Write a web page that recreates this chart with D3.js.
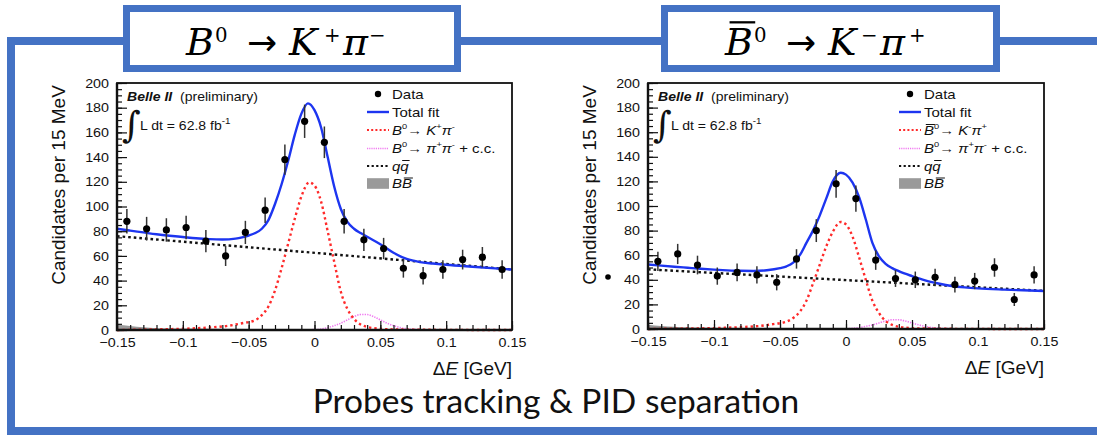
<!DOCTYPE html>
<html>
<head>
<meta charset="utf-8">
<script src="https://cdn.jsdelivr.net/npm/d3@7"></script>
<style>
  body { margin: 0; background: #fff; }
  svg { display: block; }
  text { white-space: pre; }
</style>
</head>
<body>
<svg id="slide" width="1097" height="435"></svg>
<script>
// ---------- data ----------
// ΔE bin centres (15 MeV bins)
const binCenters = [-0.1425, -0.1275, -0.1125, -0.0975, -0.0825, -0.0675, -0.0525, -0.0375, -0.0225, -0.0075,
                    0.0075, 0.0225, 0.0375, 0.0525, 0.0675, 0.0825, 0.0975, 0.1125, 0.1275, 0.1425];

// B0 -> K+ pi-
const countsKpi = [88, 82, 81, 83, 72, 60, 79, 97, 138, 169, 152, 88, 73, 66, 50, 44, 49, 57, 59, 49];
const errorsKpi = [9.9, 9.6, 9.5, 9.6, 9.0, 8.2, 9.4, 10.3, 12.2, 13.5, 12.8, 9.9, 9.0, 8.6, 7.6, 7.1, 7.5, 8.0, 8.2, 7.5];
const totalFitKpi = [[-0.15, 82], [-0.14, 80.5], [-0.13, 79], [-0.12, 77.5], [-0.11, 76.3], [-0.10, 75.3], [-0.09, 74.3],
  [-0.08, 73.6], [-0.07, 73.3], [-0.06, 74], [-0.055, 75], [-0.05, 76.5], [-0.045, 78.5], [-0.04, 82], [-0.035, 89],
  [-0.03, 102], [-0.025, 118], [-0.02, 137], [-0.015, 158], [-0.01, 175], [-0.005, 183.5], [0.0, 178], [0.005, 164],
  [0.01, 140], [0.015, 116], [0.02, 98], [0.025, 87.5], [0.03, 82], [0.035, 78.5], [0.04, 75.5], [0.05, 69.5],
  [0.06, 62.5], [0.07, 57.5], [0.08, 55], [0.09, 53.8], [0.10, 52.8], [0.12, 51.2], [0.14, 49.7], [0.15, 49]];
const signalKpi = [[-0.15, 0], [-0.12, 0.5], [-0.10, 1], [-0.08, 2], [-0.065, 3.5], [-0.055, 5.5], [-0.045, 8], [-0.04, 12],
  [-0.035, 19], [-0.03, 32], [-0.025, 50], [-0.02, 70], [-0.015, 90], [-0.01, 108], [-0.004, 119.5], [0.0, 117],
  [0.005, 104], [0.01, 80], [0.015, 55], [0.02, 31], [0.025, 17], [0.03, 9], [0.035, 4.5], [0.04, 2.5], [0.05, 1],
  [0.06, 0.5], [0.08, 0.2], [0.15, 0]];
const pipiKpi = [[-0.03, 0], [0.0, 0.3], [0.005, 0.8], [0.01, 1.9], [0.015, 3.5], [0.02, 5.5], [0.025, 8.2], [0.03, 10.9],
  [0.035, 12.5], [0.04, 12.5], [0.045, 10.8], [0.05, 8.2], [0.055, 5.6], [0.06, 3.5], [0.065, 2], [0.07, 1],
  [0.08, 0.3], [0.09, 0], [0.15, 0]];
const qqbarKpi = [[-0.15, 76], [0.15, 49]];
const bbbarKpi = [[-0.15, 4.5], [-0.14, 3.2], [-0.13, 2.2], [-0.12, 1.5], [-0.10, 1.2], [-0.05, 0.9], [0.0, 0.7],
  [0.05, 0.5], [0.10, 0.3], [0.15, 0.2]];

// anti-B0 -> K- pi+
const countsKbarpi = [55, 61, 52, 43, 46, 44, 38, 57, 80, 118, 106, 56, 41, 40, 42, 36, 39, 50, 24, 44];
const errorsKbarpi = [7.8, 8.2, 7.6, 7.0, 7.2, 7.0, 6.6, 7.9, 9.3, 11.3, 10.7, 7.9, 6.8, 6.7, 6.9, 6.4, 6.6, 7.5, 5.3, 7.0];
const totalFitKbarpi = [[-0.15, 52.5], [-0.14, 51.5], [-0.13, 50.6], [-0.12, 49.8], [-0.11, 49], [-0.10, 48.3],
  [-0.09, 47.7], [-0.08, 47.3], [-0.07, 47.2], [-0.06, 47.8], [-0.05, 49.5], [-0.045, 51], [-0.04, 54], [-0.035, 60],
  [-0.03, 70], [-0.025, 80], [-0.02, 92], [-0.015, 106], [-0.01, 120], [-0.004, 127], [0.0, 125.5], [0.005, 119],
  [0.01, 107], [0.015, 89], [0.02, 70], [0.025, 59], [0.03, 53], [0.035, 49.5], [0.04, 47], [0.05, 43], [0.06, 39.5],
  [0.07, 37], [0.08, 35], [0.09, 33.8], [0.10, 33], [0.12, 32], [0.15, 30.9]];
const signalKbarpi = [[-0.15, 0], [-0.12, 0.4], [-0.10, 0.7], [-0.08, 1.5], [-0.065, 2.5], [-0.055, 4], [-0.045, 6],
  [-0.04, 9], [-0.035, 14], [-0.03, 23], [-0.025, 37], [-0.02, 52], [-0.015, 67], [-0.01, 79], [-0.004, 87], [0.0, 85],
  [0.005, 75], [0.01, 58], [0.015, 40], [0.02, 23], [0.025, 13], [0.03, 6.5], [0.035, 3.3], [0.04, 1.8], [0.05, 0.7],
  [0.06, 0.4], [0.08, 0.15], [0.15, 0]];
const pipiKbarpi = [[-0.03, 0], [0.0, 0.2], [0.005, 0.5], [0.01, 1.1], [0.015, 2.1], [0.02, 3.3], [0.025, 4.9],
  [0.03, 6.5], [0.035, 7.5], [0.04, 7.5], [0.045, 6.5], [0.05, 4.9], [0.055, 3.4], [0.06, 2.1], [0.065, 1.2],
  [0.07, 0.6], [0.08, 0.2], [0.09, 0], [0.15, 0]];
const qqbarKbarpi = [[-0.15, 48.5], [0.15, 31]];
const bbbarKbarpi = [[-0.15, 3.5], [-0.14, 2.5], [-0.13, 1.8], [-0.12, 1.2], [-0.10, 1.0], [-0.05, 0.8], [0.0, 0.6],
  [0.05, 0.4], [0.10, 0.3], [0.15, 0.2]];

// axes
const xDomain = [-0.15, 0.15];
const yDomain = [0, 200];
const xTickValues = [-0.15, -0.1, -0.05, 0, 0.05, 0.1, 0.15];
const yTickValues = [0, 20, 40, 60, 80, 100, 120, 140, 160, 180, 200];

// text
const yAxisTitle = "Candidates per 15 MeV";
const footerText = "Probes tracking & PID separation";
const lumiText = "L dt = 62.8 fb";

// ---------- drawing ----------
const svg = d3.select("#slide");
const SANS = "'Liberation Sans', Arial, Helvetica, sans-serif";
const SERIF = "'DejaVu Serif', 'Liberation Serif', serif";
const SX = 1.17;           // horizontal stretch of the ROOT plot lettering
const BLUE = "#4472C4";

// text built from parts: {t, it, b, sup, over, x, font, size}
function richText(parent, x, y, parts, o) {
  const sx = o.sx || 1;
  const g = parent.append("g").attr("transform", `translate(${x},${y}) scale(${sx},1)`);
  const t = g.append("text")
    .attr("font-family", o.font).attr("font-size", o.size)
    .attr("fill", o.fill || "#000").attr("text-anchor", o.anchor || "start");
  const supSize = o.size * (o.supScale || 0.62);
  const raise = o.size * (o.supRaise || 0.42);
  let offset = 0, idx = 0;
  const overs = [];
  parts.forEach(p => {
    const s = t.append("tspan").text(p.t);
    const target = p.sup ? -raise : 0;
    if (target !== offset) { s.attr("dy", target - offset); offset = target; }
    if (p.x !== undefined) s.attr("x", (p.x - x) / sx);
    if (p.sup) s.attr("font-size", supSize);
    if (p.size) s.attr("font-size", p.size);
    if (p.it) s.attr("font-style", "italic");
    if (p.b) s.attr("font-weight", "bold");
    if (p.font) s.attr("font-family", p.font);
    if (p.over) overs.push({ start: idx, len: p.t.length, size: p.sup ? supSize : o.size, base: target });
    idx += p.t.length;
  });
  overs.forEach(ov => {
    const node = t.node();
    const a = node.getExtentOfChar(ov.start);
    const b = node.getExtentOfChar(ov.start + ov.len - 1);
    const yy = ov.base - ov.size * (o.overAt || 0.8);
    g.append("line")
      .attr("x1", a.x + ov.size * 0.12).attr("x2", b.x + b.width + ov.size * 0.06)
      .attr("y1", yy).attr("y2", yy)
      .attr("stroke", o.fill || "#000").attr("stroke-width", Math.max(1, ov.size * 0.06));
  });
  return g;
}

// slide frame
svg.append("path")
  .attr("d", "M1100,41 H11 V431 H1100")
  .attr("fill", "none").attr("stroke", BLUE).attr("stroke-width", 8);

function drawPanel(cfg) {
  const x = d3.scaleLinear().domain(xDomain).range([cfg.x0, cfg.x1]);
  const y = d3.scaleLinear().domain(yDomain).range([cfg.yBottom, cfg.yTop]);
  const g = svg.append("g");

  const line = d3.line().x(d => x(d[0])).y(d => y(d[1])).curve(d3.curveMonotoneX);
  const area = d3.area().x(d => x(d[0])).y0(y(0)).y1(d => y(d[1])).curve(d3.curveMonotoneX);

  // B Bbar background (filled)
  g.append("path").attr("d", area(cfg.bbbar)).attr("fill", "#9a9a9a");
  // peaking pi pi
  g.append("path").attr("d", line(cfg.pipi)).attr("fill", "none")
    .attr("stroke", "#f07af0").attr("stroke-width", 1.6).attr("stroke-dasharray", "1.3,1.2");
  // signal
  g.append("path").attr("d", line(cfg.signal)).attr("fill", "none")
    .attr("stroke", "#ff2a2a").attr("stroke-width", 2.4).attr("stroke-dasharray", "2.4,3");
  // continuum
  g.append("path").attr("d", line(cfg.qqbar)).attr("fill", "none")
    .attr("stroke", "#111").attr("stroke-width", 2.4).attr("stroke-dasharray", "2.6,3");
  // total fit
  g.append("path").attr("d", line(cfg.total)).attr("fill", "none")
    .attr("stroke", "#1d35f0").attr("stroke-width", 2.4);

  // data with error bars
  const pts = cfg.counts.map((c, i) => ({ x: binCenters[i], y: c, e: cfg.errors[i] }));
  g.selectAll(".err").data(pts).join("line")
    .attr("x1", d => x(d.x)).attr("x2", d => x(d.x))
    .attr("y1", d => y(d.y - d.e)).attr("y2", d => y(d.y + d.e))
    .attr("stroke", "#333").attr("stroke-width", 1.5);
  g.selectAll(".pt").data(pts).join("circle")
    .attr("cx", d => x(d.x)).attr("cy", d => y(d.y)).attr("r", 3.6).attr("fill", "#000");

  // axes (ticks point inwards)
  const xa = g.append("g").attr("transform", `translate(0,${cfg.yBottom})`)
    .call(d3.axisBottom(x).tickValues(xTickValues).tickSize(-9).tickPadding(8).tickFormat(d3.format("")));
  g.append("g").attr("transform", `translate(0,${cfg.yBottom})`)
    .call(d3.axisBottom(x).ticks(30).tickSize(-5).tickFormat(""));
  const ya = g.append("g").attr("transform", `translate(${cfg.x0},0)`)
    .call(d3.axisLeft(y).tickValues(yTickValues).tickSize(-10).tickPadding(8));
  g.append("g").attr("transform", `translate(${cfg.x0},0)`)
    .call(d3.axisLeft(y).ticks(50).tickSize(-5).tickFormat(""));
  g.selectAll(".domain").remove();
  g.selectAll(".tick line").attr("stroke", "#111").attr("stroke-width", 1.2);
  const TSX = 1.1;
  [xa, ya].forEach(a => a.selectAll("text")
    .attr("font-family", SANS).attr("font-size", 13).attr("fill", "#111")
    .attr("x", function () { return (+d3.select(this).attr("x") || 0) / TSX; })
    .attr("transform", `scale(${TSX},1)`));

  // frame
  g.append("rect").attr("x", cfg.x0).attr("y", cfg.yTop)
    .attr("width", cfg.x1 - cfg.x0).attr("height", cfg.yBottom - cfg.yTop)
    .attr("fill", "none").attr("stroke", "#111").attr("stroke-width", 1.8);
  g.append("path").attr("d", `M${cfg.x0},${cfg.yTop} V${cfg.yBottom} H${cfg.x1}`)
    .attr("fill", "none").attr("stroke", "#111").attr("stroke-width", 2.4);

  // axis titles
  g.append("text").attr("transform", `translate(${cfg.x0 - 52},${cfg.yTitleMid}) rotate(-90)`)
    .attr("text-anchor", "middle").attr("font-family", SANS).attr("font-size", 19).attr("fill", "#111")
    .text(yAxisTitle);
  richText(g, cfg.x1, cfg.yBottom + 45,
    [{ t: "Δ" }, { t: "E", it: true }, { t: " [GeV]" }],
    { font: SANS, size: 19, anchor: "end", fill: "#111" });

  // experiment label
  richText(g, cfg.x0 + 10, 101, [{ t: "Belle II", b: true, it: true }, { t: "  (preliminary)" }],
    { font: SANS, size: 12, sx: SX, fill: "#111" });
  g.append("text").attr("x", cfg.x0 + 5).attr("y", 137).attr("font-family", "'DejaVu Serif', serif")
    .attr("font-size", 36).attr("fill", "#111").text("∫");
  richText(g, cfg.x0 + 23, 130, [{ t: lumiText }, { t: "-1", sup: true }],
    { font: SANS, size: 12, sx: SX, fill: "#111", supScale: 0.7, supRaise: 0.5 });

  // legend
  const lx = cfg.x1 - 134, tx = cfg.x1 - 120;
  const rows = [94, 112, 130, 148.5, 166, 183.5];
  const lg = g.append("g");
  lg.append("circle").attr("cx", lx).attr("cy", rows[0]).attr("r", 3.2).attr("fill", "#000");
  const seg = (yy, color, w, dash) => lg.append("line").attr("x1", lx - 11).attr("x2", lx + 11)
    .attr("y1", yy).attr("y2", yy).attr("stroke", color).attr("stroke-width", w).attr("stroke-dasharray", dash);
  seg(rows[1], "#1d35f0", 2.4, null);
  seg(rows[2], "#ff2a2a", 2, "2,2.2");
  seg(rows[3], "#f07af0", 1.6, "1.2,1");
  seg(rows[4], "#111", 2, "2.2,2.4");
  lg.append("rect").attr("x", lx - 11).attr("y", rows[5] - 5.3).attr("width", 22).attr("height", 10.6).attr("fill", "#9a9a9a");
  const lo = { font: SANS, size: 12.5, sx: 1.2, fill: "#111", supScale: 0.62, supRaise: 0.45 };
  richText(lg, tx, rows[0] + 4.5, [{ t: "Data" }], lo);
  richText(lg, tx, rows[1] + 4.5, [{ t: "Total fit" }], lo);
  richText(lg, tx, rows[2] + 4.5, cfg.signalLabel, lo);
  richText(lg, tx, rows[3] + 4.5,
    [{ t: "B", it: true }, { t: "0", sup: true }, { t: "→ " }, { t: "π", it: true }, { t: "+", sup: true },
     { t: "π", it: true }, { t: "-", sup: true }, { t: " + c.c." }], lo);
  richText(lg, tx, rows[4] + 4.5, [{ t: "q", it: true }, { t: "q", it: true, over: true }], lo);
  richText(lg, tx, rows[5] + 4.5, [{ t: "B", it: true }, { t: "B", it: true, over: true }], lo);
}

drawPanel({
  x0: 117, x1: 512, yTop: 83, yBottom: 330, yTitleMid: 185,
  counts: countsKpi, errors: errorsKpi, total: totalFitKpi, signal: signalKpi,
  pipi: pipiKpi, qqbar: qqbarKpi, bbbar: bbbarKpi,
  signalLabel: [{ t: "B", it: true }, { t: "0", sup: true }, { t: "→ " }, { t: "K", it: true }, { t: "+", sup: true },
                { t: "π", it: true }, { t: "-", sup: true }]
});
drawPanel({
  x0: 648, x1: 1044, yTop: 83, yBottom: 329, yTitleMid: 185,
  counts: countsKbarpi, errors: errorsKbarpi, total: totalFitKbarpi, signal: signalKbarpi,
  pipi: pipiKbarpi, qqbar: qqbarKbarpi, bbbar: bbbarKbarpi,
  signalLabel: [{ t: "B", it: true, over: true }, { t: "0", sup: true }, { t: "→ " }, { t: "K", it: true },
                { t: "-", sup: true }, { t: "π", it: true }, { t: "+", sup: true }]
});

// slide bullet left of the second panel
svg.append("circle").attr("cx", 608).attr("cy", 277).attr("r", 2.8).attr("fill", "#000");

// decay-channel title boxes
const ARROW = "'DejaVu Sans', sans-serif";
function titleBox(x, w, parts, tx) {
  svg.append("rect").attr("x", x).attr("y", 8.5).attr("width", w).attr("height", 60)
    .attr("fill", "#fff").attr("stroke", BLUE).attr("stroke-width", 7);
  richText(svg, tx, 55, parts, { font: SERIF, size: 38, supScale: 0.52, supRaise: 0.34, fill: "#000", overAt: 0.86 });
}
titleBox(126.5, 331,
  [{ t: "B", it: true, x: 186 }, { t: "0", sup: true, x: 215 }, { t: "→", font: ARROW, size: 36, x: 247 },
   { t: "K", it: true, x: 289 }, { t: "+", sup: true, x: 324 },
   { t: "π", it: true, x: 343 }, { t: "−", sup: true, x: 369 }], 186);
titleBox(664.5, 332,
  [{ t: "B", it: true, over: true, x: 725 }, { t: "0", sup: true, x: 754 }, { t: "→", font: ARROW, size: 36, x: 786 },
   { t: "K", it: true, x: 828 }, { t: "−", sup: true, x: 861 },
   { t: "π", it: true, x: 880 }, { t: "+", sup: true, x: 909 }], 725);

// footer caption
svg.append("text").attr("x", 556).attr("y", 413).attr("text-anchor", "middle")
  .attr("font-family", "Lato, 'Open Sans', sans-serif").attr("font-size", 33.5).attr("fill", "#111")
  .text(footerText);
</script>
</body>
</html>
